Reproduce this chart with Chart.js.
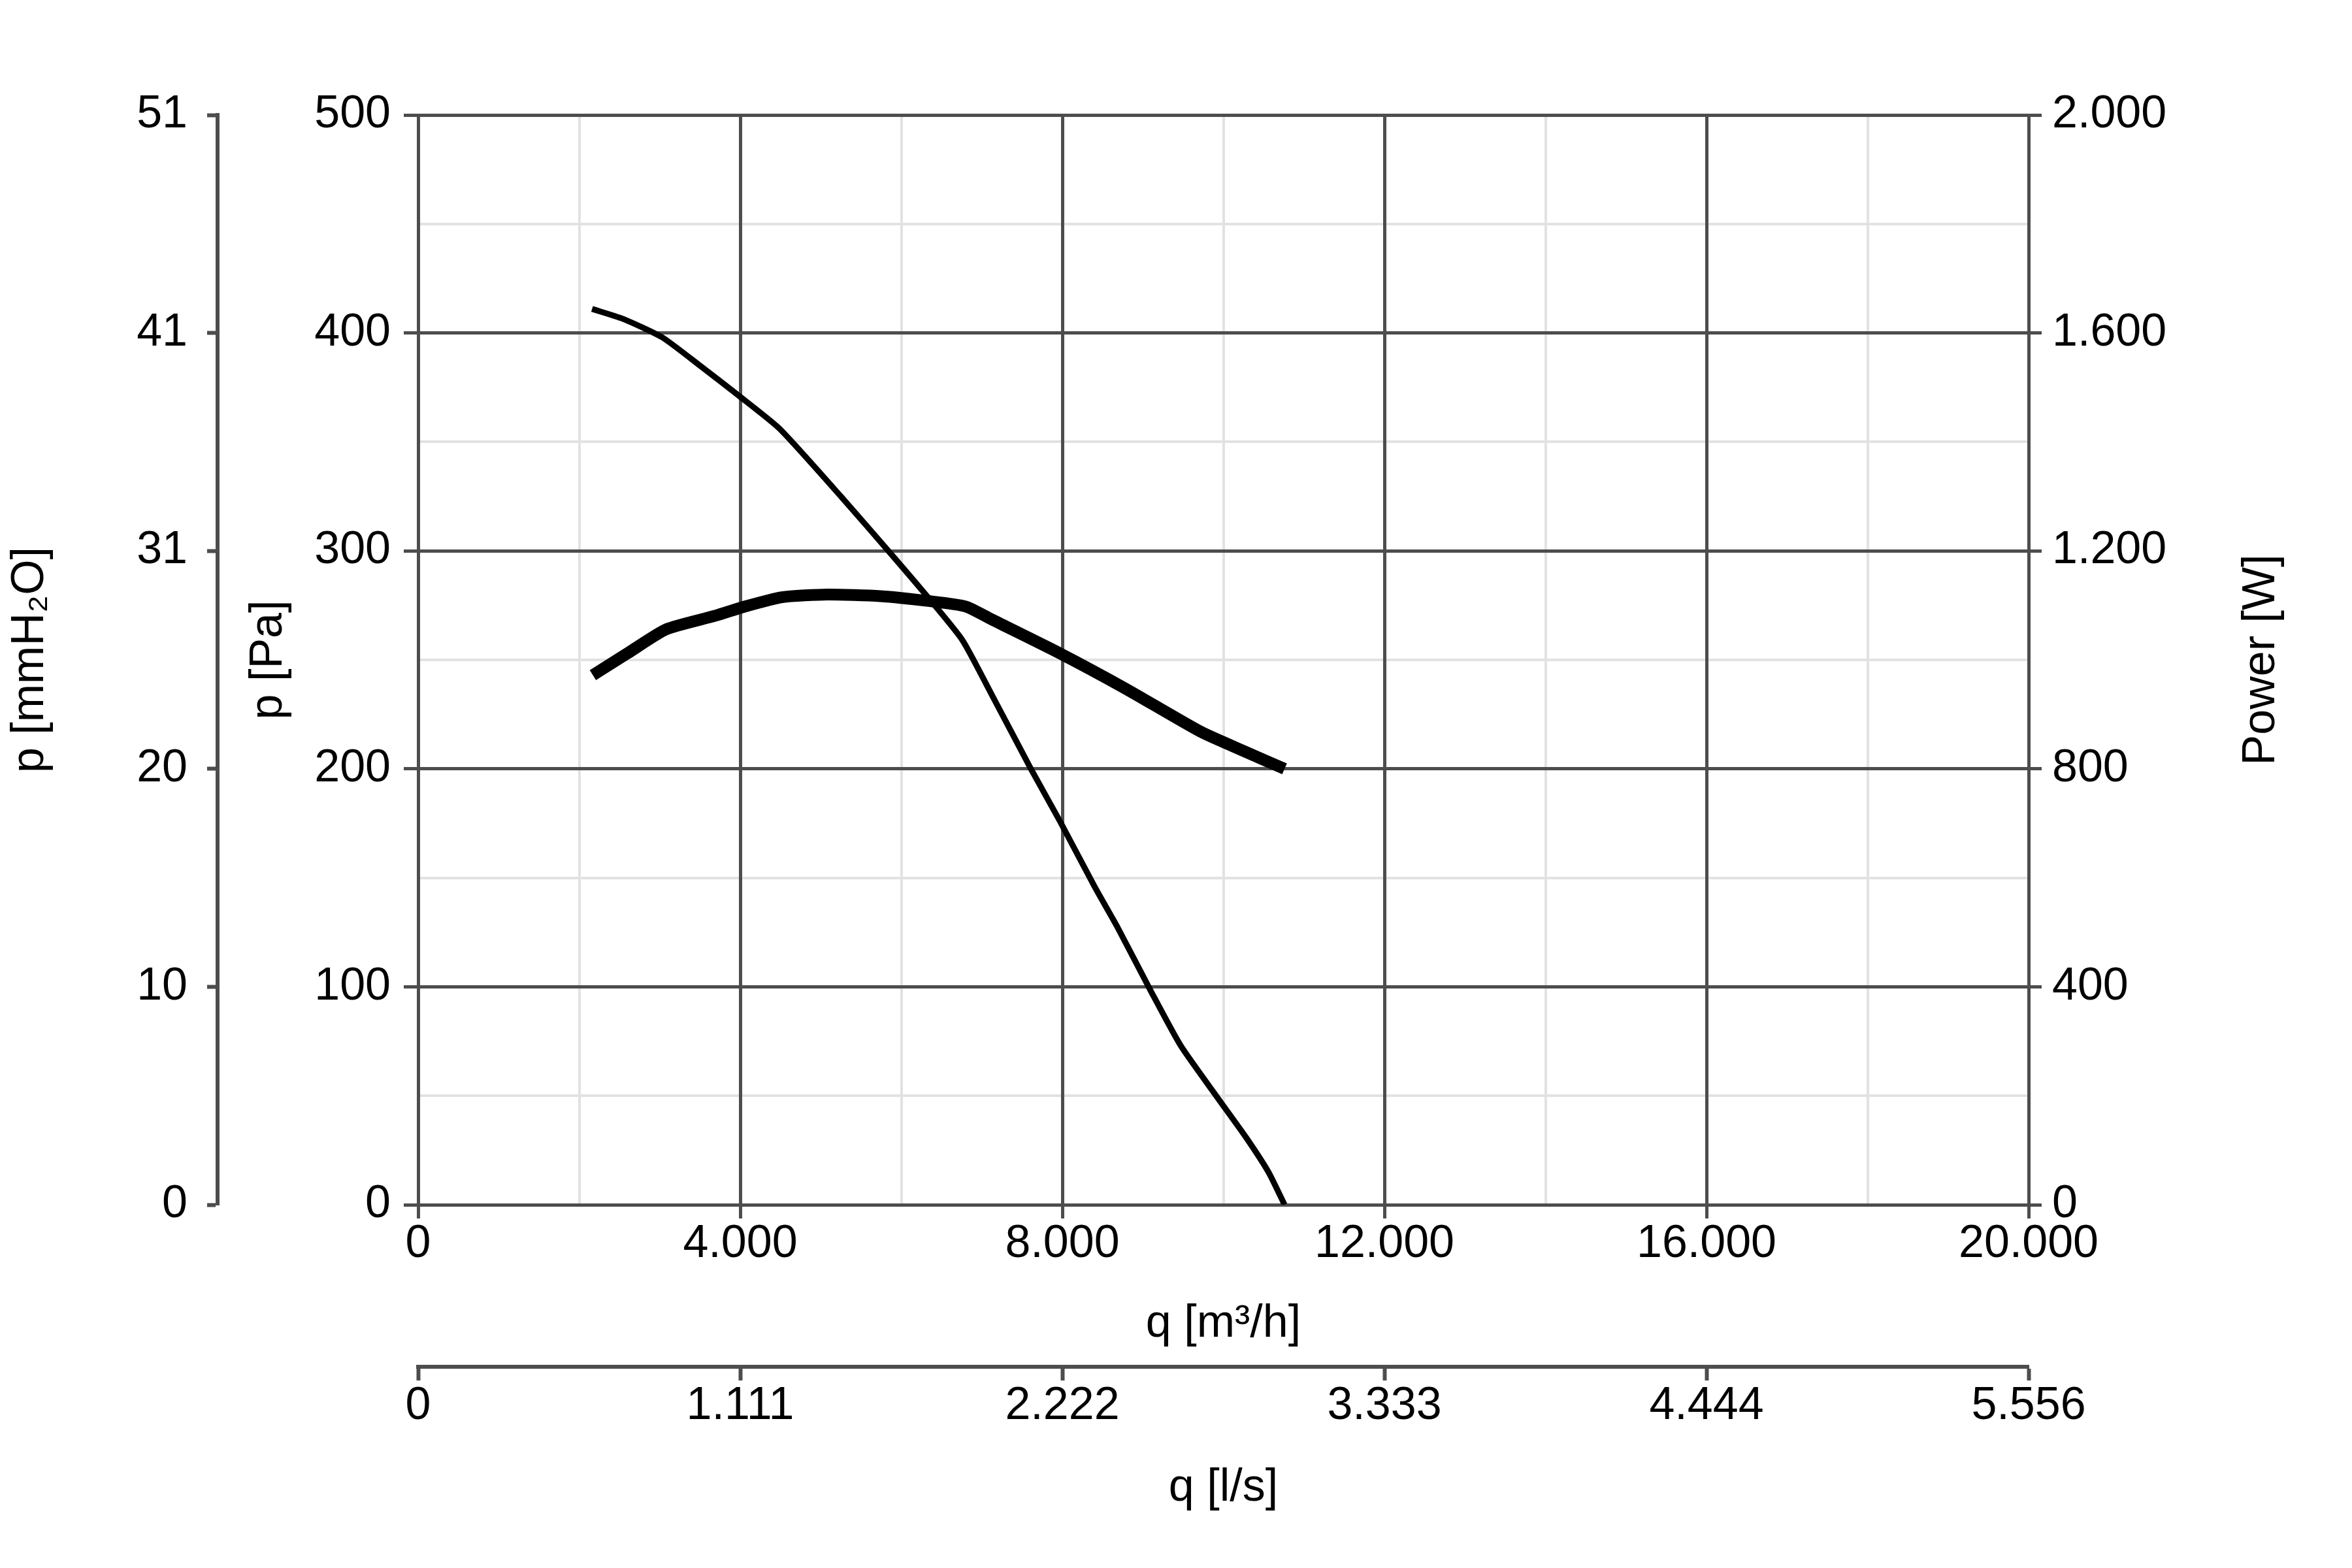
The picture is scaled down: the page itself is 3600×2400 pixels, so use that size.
<!DOCTYPE html>
<html lang="en">
    <head>
        <meta charset="UTF-8" />
        <title>Fan curve</title>
        <script src="https://cdn.jsdelivr.net/npm/chart.js"></script>
        <style>
            html, body { margin: 0; padding: 0; background: #fff; }
            canvas { display: block; }
        </style>
    </head>
    <body>
        <canvas id="fanChart" width="3600" height="2400"></canvas>

        <script>
            // Kennlinie: Druck über Volumenstrom
            const qPressure = [2160, 2540, 3030, 3500, 3990, 4490, 5250, 5910, 6370, 6760, 7110, 7610, 7970, 8400, 8690, 9100, 9470, 9930, 10280, 10560, 10760];
            const pPressure = [411, 406.5, 398, 385, 371, 356, 325, 297, 277, 259, 235, 200, 176, 146, 127, 98, 73, 49, 31, 15, 0];

            // Leistungsaufnahme
            const qPower = [2170, 2600, 3080, 3690, 4060, 4520, 5080, 5740, 6340, 6800, 7140, 7970, 8800, 9720, 10280, 10760];
            const wPower = [972, 1012, 1056, 1081, 1098, 1115, 1120, 1117, 1108, 1098, 1073, 1012, 946, 868, 831, 800];

            // Achsenbeschriftungen
            const qTickLabels = ["0", "4.000", "8.000", "12.000", "16.000", "20.000"];
            const lsTickLabels = ["0", "1.111", "2.222", "3.333", "4.444", "5.556"];
            const paTickLabels = ["0", "100", "200", "300", "400", "500"];
            const mmTickLabels = ["0", "10", "20", "31", "41", "51"];
            const powerTickLabels = ["0", "400", "800", "1.200", "1.600", "2.000"];

            const FONT = "'Liberation Sans', Arial, sans-serif";
            const DARK = "#4d4d4d";
            const LIGHT = "#e2e2e2";
            const tickFont = { family: FONT, size: 70, lineHeight: 1 };
            const isMajorQ = (v) => v % 4000 === 0;
            const isMajorP = (v) => v % 100 === 0;

            // helle Zwischenlinien zuerst, damit die dunklen darüber liegen
            const minorGrid = {
                id: "minorGrid",
                beforeDraw(chart) {
                    const { ctx, chartArea: a, scales } = chart;
                    ctx.save();
                    ctx.strokeStyle = LIGHT;
                    ctx.lineWidth = 4;
                    scales.x.ticks.forEach((t) => {
                        if (isMajorQ(t.value)) return;
                        const px = Math.round(scales.x.getPixelForValue(t.value));
                        ctx.beginPath();
                        ctx.moveTo(px, a.top);
                        ctx.lineTo(px, a.bottom);
                        ctx.stroke();
                    });
                    scales.y.ticks.forEach((t) => {
                        if (isMajorP(t.value)) return;
                        const py = Math.round(scales.y.getPixelForValue(t.value));
                        ctx.beginPath();
                        ctx.moveTo(a.left, py);
                        ctx.lineTo(a.right, py);
                        ctx.stroke();
                    });
                    ctx.restore();
                },
            };

            // Titel der rechten Achse, von unten nach oben gelesen
            const powerTitle = {
                id: "powerTitle",
                afterDraw(chart) {
                    const { ctx, chartArea: a, scales } = chart;
                    ctx.save();
                    ctx.translate(scales.y3.left + 357, (a.top + a.bottom) / 2);
                    ctx.rotate(-Math.PI / 2);
                    ctx.font = "70px " + FONT;
                    ctx.fillStyle = "#000";
                    ctx.textAlign = "center";
                    ctx.textBaseline = "middle";
                    ctx.fillText("Power [W]", 0, 0);
                    ctx.restore();
                },
            };

            new Chart(document.getElementById("fanChart"), {
                type: "line",
                data: {
                    datasets: [
                        {
                            label: "p [Pa]",
                            data: qPressure.map((q, i) => ({ x: q, y: pPressure[i] })),
                            yAxisID: "y",
                            borderColor: "#000",
                            borderWidth: 9,
                            pointRadius: 0,
                            tension: 0.2,
                            borderJoinStyle: "round",
                        },
                        {
                            label: "Power [W]",
                            data: qPower.map((q, i) => ({ x: q, y: wPower[i] })),
                            yAxisID: "y3",
                            borderColor: "#000",
                            borderWidth: 18,
                            pointRadius: 0,
                            tension: 0.2,
                            borderJoinStyle: "round",
                        },
                    ],
                },
                options: {
                    responsive: false,
                    devicePixelRatio: 1,
                    animation: false,
                    layout: { padding: { top: 176, bottom: 76, left: 0, right: 0 } },
                    plugins: { legend: { display: false }, tooltip: { enabled: false } },
                    scales: {
                        x: {
                            type: "linear",
                            position: "bottom",
                            weight: 0,
                            min: 0,
                            max: 20000,
                            afterFit: (s) => { s.height = 248; },
                            ticks: {
                                stepSize: 2000,
                                autoSkip: false,
                                maxRotation: 0,
                                padding: 5,
                                color: "#000",
                                font: tickFont,
                                callback: (v) => (isMajorQ(v) ? qTickLabels[v / 4000] : ""),
                            },
                            grid: {
                                color: (c) => (isMajorQ(c.tick.value) ? DARK : "rgba(0,0,0,0)"),
                                tickColor: (c) => (isMajorQ(c.tick.value) ? DARK : "rgba(0,0,0,0)"),
                                lineWidth: 5,
                                tickWidth: 5,
                                tickLength: 21,
                            },
                            border: { display: true, color: DARK, width: 5 },
                            title: { display: true, text: "q [m³/h]", color: "#000", font: tickFont, padding: { top: 0, bottom: 30 } },
                        },
                        x2: {
                            type: "linear",
                            position: "bottom",
                            weight: 1,
                            min: 0,
                            max: 20000,
                            afterFit: (s) => { s.height = 232; },
                            ticks: {
                                stepSize: 4000,
                                autoSkip: false,
                                maxRotation: 0,
                                padding: 5,
                                color: "#000",
                                font: tickFont,
                                callback: (v, i) => lsTickLabels[i],
                            },
                            grid: { drawOnChartArea: false, tickColor: DARK, tickWidth: 6, tickLength: 21 },
                            border: { display: true, color: DARK, width: 6 },
                            title: { display: true, text: "q [l/s]", color: "#000", font: tickFont, padding: { top: 0, bottom: 11 } },
                        },
                        y: {
                            type: "linear",
                            position: "left",
                            weight: 0,
                            min: 0,
                            max: 500,
                            afterFit: (s) => { s.width = 307; },
                            ticks: {
                                stepSize: 50,
                                autoSkip: false,
                                padding: 20,
                                color: "#000",
                                font: tickFont,
                                callback: (v) => (isMajorP(v) ? paTickLabels[v / 100] : ""),
                            },
                            grid: {
                                color: (c) => (isMajorP(c.tick.value) ? DARK : "rgba(0,0,0,0)"),
                                tickColor: (c) => (isMajorP(c.tick.value) ? DARK : "rgba(0,0,0,0)"),
                                lineWidth: 5,
                                tickWidth: 5,
                                tickLength: 22,
                            },
                            border: { display: true, color: DARK, width: 5 },
                            title: { display: true, text: "p [Pa]", color: "#000", font: tickFont, padding: { top: 44, bottom: 0 } },
                        },
                        y2: {
                            type: "linear",
                            position: "left",
                            weight: 1,
                            min: 0,
                            max: 500,
                            afterFit: (s) => { s.width = 333; },
                            ticks: {
                                stepSize: 100,
                                autoSkip: false,
                                padding: 30,
                                color: "#000",
                                font: tickFont,
                                callback: (v, i) => mmTickLabels[i],
                            },
                            grid: { drawOnChartArea: false, tickColor: DARK, tickWidth: 6, tickLength: 16 },
                            border: { display: true, color: DARK, width: 6 },
                            title: { display: true, text: "p [mmH₂O]", color: "#000", font: tickFont, padding: { top: 12, bottom: 0 } },
                        },
                        y3: {
                            type: "linear",
                            position: "right",
                            min: 0,
                            max: 2000,
                            afterFit: (s) => { s.width = 495; },
                            ticks: {
                                stepSize: 400,
                                autoSkip: false,
                                padding: 16,
                                color: "#000",
                                font: tickFont,
                                callback: (v, i) => powerTickLabels[i],
                            },
                            grid: { drawOnChartArea: false, tickColor: DARK, tickWidth: 5, tickLength: 20 },
                            border: { display: true, color: DARK, width: 5 },
                        },
                    },
                },
                plugins: [minorGrid, powerTitle],
            });
        </script>
    </body>
</html>
